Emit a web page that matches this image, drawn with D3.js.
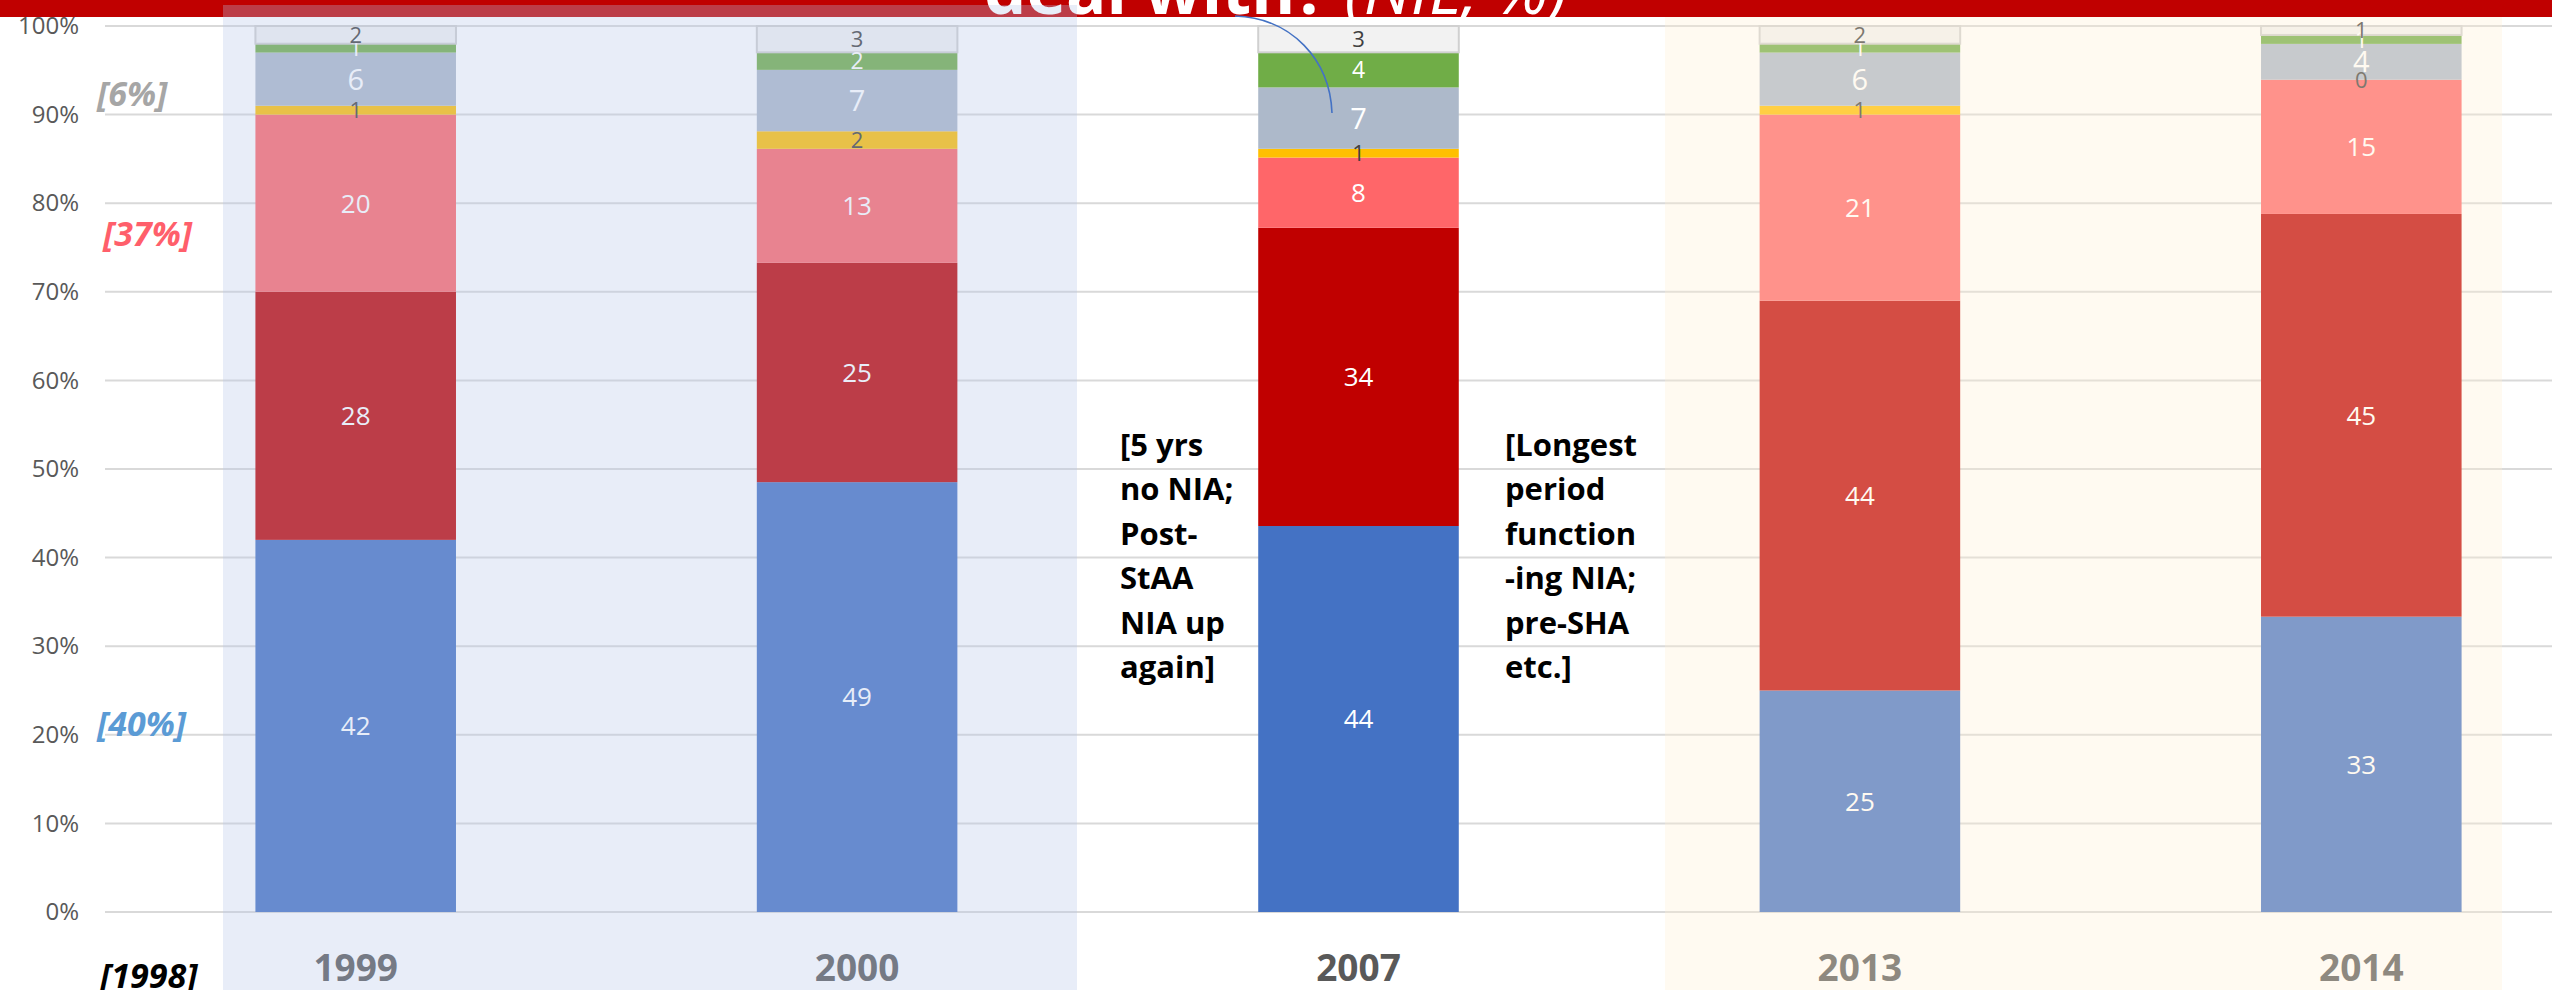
<!DOCTYPE html>
<html><head><meta charset="utf-8">
<script src="https://cdn.jsdelivr.net/npm/d3@7"></script>
<style>html,body{margin:0;padding:0;background:#fff;overflow:hidden}</style>
</head><body><svg id="c" width="2552" height="990"></svg>
<script>
// ---- data ----
const years = ["1999", "2000", "2007", "2013", "2014"];
const seriesKeys = ["s1", "s2", "s3", "s4", "s5", "s6", "s7"];
const s1 = [42, 49, 44, 25, 33];
const s2 = [28, 25, 34, 44, 45];
const s3 = [20, 13, 8, 21, 15];
const s4 = [1, 2, 1, 1, 0];
const s5 = [6, 7, 7, 6, 4];
const s6 = [1, 2, 4, 1, 1];
const s7 = [2, 3, 3, 2, 1];
const yTicks = [0, 0.1, 0.2, 0.3, 0.4, 0.5, 0.6, 0.7, 0.8, 0.9, 1.0];
const titleBold = "deal with? ";
const titleItalic = "(NIL, %)";
const leftNotes = ["[6%]", "[37%]", "[40%]"];
const leftNoteAt = [0.91, 0.752, 0.199];
const baseYearNote = "[1998]";
const noteLeft = ["[5 yrs", "no NIA;", "Post-", "StAA", "NIA up", "again]"];
const noteRight = ["[Longest", "period", "function", "-ing NIA;", "pre-SHA", "etc.]"];

// ---- styles ----
const colors = ["#4472c4", "#c00000", "#ff6669", "#ffc000", "#adb9ca", "#70ad47", "#f2f2f2"];
const labelColors = ["#fff", "#fff", "#fff", "#404040", "#fff", "#fff", "#404040"];
const labelSizes = [26, 26, 26, 22, 29, 23, 22];
const noteColors = ["#a6a6a6", "#ff5f6b", "#5b9bd5"];
const noteX = [97, 103, 97];
const font = "'Open Sans', 'Noto Sans', sans-serif";

const allSeries = [s1, s2, s3, s4, s5, s6, s7];
const rows = years.map((y, i) => {
  const r = { year: y };
  seriesKeys.forEach((k, j) => r[k] = allSeries[j][i]);
  return r;
});

const svg = d3.select("#c");
const W = 2552, H = 990;

const x = d3.scaleBand().domain(years).range([105, 2612]).paddingInner(0.6).paddingOuter(0.3);
const y = d3.scaleLinear().domain([0, 1]).range([912, 26]);

// title band
svg.append("rect").attr("x", 0).attr("y", 0).attr("width", W).attr("height", 17).attr("fill", "#c00000");
svg.append("clipPath").attr("id", "tclip").append("rect").attr("x", 0).attr("y", 0).attr("width", W).attr("height", 17);
const tt = svg.append("text").attr("clip-path", "url(#tclip)")
  .attr("x", 984).attr("y", 14).attr("fill", "#fff")
  .style("font-family", font).style("font-size", "67px");
tt.append("tspan").style("font-weight", "bold").text(titleBold);
tt.append("tspan").style("font-style", "italic").text(titleItalic);

// gridlines
svg.append("g").selectAll("line").data(yTicks).join("line")
  .attr("x1", 105).attr("x2", 2612)
  .attr("y1", d => y(d)).attr("y2", d => y(d))
  .attr("stroke", "#d9d9d9").attr("stroke-width", 2);

// y tick labels
const yAxis = d3.axisLeft(y).tickValues(yTicks).tickFormat(d3.format(".0%")).tickSize(0).tickPadding(0);
const ya = svg.append("g").attr("transform", "translate(79,0)").call(yAxis);
ya.select(".domain").remove();
ya.selectAll("text").style("font-family", font).style("font-size", "24px").attr("fill", "#595959");

// stacked bars (100% stacked)
const stack = d3.stack().keys(seriesKeys).offset(d3.stackOffsetExpand);
const layers = stack(rows);

const gBars = svg.append("g");
layers.forEach((layer, li) => {
  gBars.append("g").selectAll("rect").data(layer).join("rect")
    .attr("x", d => x(d.data.year))
    .attr("width", x.bandwidth())
    .attr("y", d => y(d[1]))
    .attr("height", d => y(d[0]) - y(d[1]))
    .attr("fill", colors[li])
    .attr("stroke", li === 6 ? "#d0d0d0" : "none")
    .attr("stroke-width", li === 6 ? 2 : 0);
});
layers.forEach((layer, li) => {
  gBars.append("g").selectAll("text").data(layer).join("text")
    .attr("x", d => x(d.data.year) + x.bandwidth() / 2)
    .attr("y", d => (y(d[0]) + y(d[1])) / 2)
    .attr("dy", "0.36em")
    .attr("text-anchor", "middle")
    .attr("fill", labelColors[li])
    .style("font-family", font)
    .style("font-size", labelSizes[li] + "px")
    .text(d => d.data[layer.key]);
});

// x labels
svg.append("g").selectAll("text").data(years).join("text")
  .attr("x", d => x(d) + x.bandwidth() / 2)
  .attr("y", 981)
  .attr("text-anchor", "middle")
  .attr("fill", "#595959")
  .style("font-family", font).style("font-weight", "bold").style("font-size", "37px")
  .text(d => d);

// left notes
svg.append("g").selectAll("text").data(leftNotes).join("text")
  .attr("x", (d, i) => noteX[i])
  .attr("y", (d, i) => y(leftNoteAt[i]))
  .attr("fill", (d, i) => noteColors[i])
  .style("font-family", font).style("font-weight", "bold").style("font-style", "italic")
  .style("font-size", "34px")
  .text(d => d);

svg.append("text").attr("x", 100).attr("y", 988).attr("fill", "#000")
  .style("font-family", font).style("font-weight", "bold").style("font-style", "italic")
  .style("font-size", "34px").text(baseYearNote);

// middle notes
function noteBlock(lines, x0) {
  svg.append("g").selectAll("text").data(lines).join("text")
    .attr("x", x0).attr("y", (d, i) => 456 + i * 44.4)
    .attr("fill", "#000")
    .style("font-family", font).style("font-weight", "bold").style("font-size", "31px")
    .text(d => d);
}
noteBlock(noteLeft, 1120);
noteBlock(noteRight, 1505);

// translucent highlight bands on top
svg.append("rect").attr("x", 223).attr("y", 5).attr("width", 1077 - 223).attr("height", H - 5)
  .attr("fill", "rgb(180,196,231)").attr("fill-opacity", 0.31);
svg.append("rect").attr("x", 1665).attr("y", 17).attr("width", 2502 - 1665).attr("height", H - 17)
  .attr("fill", "rgb(255,240,210)").attr("fill-opacity", 0.32);

// connector curve from title
svg.append("path").attr("d", "M1235,16 C1292,18 1330,60 1332,113")
  .attr("fill", "none").attr("stroke", "#4472c4").attr("stroke-width", 1.6);
</script></body></html>
